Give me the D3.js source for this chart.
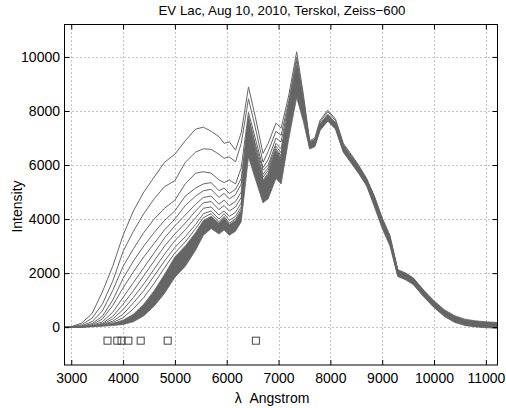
<!DOCTYPE html>
<html><head><meta charset="utf-8">
<script src="https://cdn.jsdelivr.net/npm/d3@7"></script>
<style>
body{margin:0;background:#fff;}
svg text{font-family:"Liberation Sans", Arial, Helvetica, sans-serif;fill:#000;white-space:pre;}
</style></head><body>
<svg id="chart" width="506" height="408"></svg>
<script>
// ---- data ----
const wavelength = [2870,3000,3200,3400,3600,3800,4000,4200,4400,4600,4800,5000,5200,5400,5550,5700,5850,5950,6050,6170,6280,6420,6550,6700,6800,6950,7050,7200,7350,7480,7600,7700,7800,7950,8100,8250,8400,8550,8700,8850,9000,9150,9300,9450,9600,9800,10000,10200,10400,10600,10800,11000,11225];
// envelope of the dense bundle of quiescent / late spectra
const bandLow  = [0,0,5,15,35,60,100,200,420,780,1250,1850,2250,2850,3400,3650,3450,3600,3400,3550,3900,6300,5500,4600,4750,5500,5300,7000,8500,7600,6595,6675,7275,7625,7325,6475,6075,5675,5225,4450,3650,3000,1875,1755,1575,1125,725,395,175,60,10,-20,-40];
const bandHigh = [0,3,12,35,75,140,260,480,850,1350,1950,2600,3000,3500,3950,4100,3850,4050,3800,3950,4300,7400,6400,5400,5600,6500,6200,8000,9600,8250,6845,6925,7525,7875,7575,6725,6325,5925,5475,4850,4050,3400,2125,2005,1825,1375,975,645,425,295,235,200,175];
// individual flare spectra
const spec1 = [0,20,150,500,1300,2250,3400,4300,5000,5550,6100,6400,6900,7330,7400,7250,7050,6800,6860,6550,7200,8890,7800,6430,6800,7550,7360,8600,10190,8600,6900,7000,7650,8030,7700,6800,6400,5980,5500,4820,4000,3330,2120,1990,1800,1340,930,590,360,220,150,110,90];
const spec2 = [0,10,90,330,850,1700,2800,3550,4200,4750,5200,5420,6100,6480,6600,6580,6400,6250,6300,6120,6800,8450,7400,6100,6500,7250,7100,8400,9980,8450,6860,6950,7590,7970,7640,6760,6360,5950,5470,4790,3980,3310,2100,1970,1790,1330,920,580,350,210,140,100,80];
const spec3 = [0,5,50,200,600,1350,2250,2900,3500,4000,4400,4700,5300,5700,5750,5700,5450,5350,5450,5300,5900,7950,7000,5900,6200,7000,6850,8300,9850,8400,6800,6890,7500,7840,7540,6690,6290,5890,5440,4740,3940,3280,2080,1950,1770,1310,900,560,340,200,130,95,70];
const spec4 = [0,3,30,130,400,1000,1800,2450,3000,3500,3950,4300,4850,5150,5300,5350,5050,5150,4950,5100,5500,7800,6800,5800,6000,6800,6600,8200,9700,8300,6760,6840,7440,7790,7490,6640,6240,5840,5390,4690,3890,3240,2040,1920,1740,1290,890,560,340,210,150,115,90];
const spec5 = [0,2,20,90,300,800,1450,2050,2600,3100,3600,4000,4500,4850,5050,5100,4800,4950,4750,4900,5300,7700,6700,5650,5900,6700,6450,8100,9600,8200,6720,6800,7400,7750,7450,6600,6200,5800,5350,4650,3850,3200,2000,1880,1700,1250,850,520,300,170,110,75,50];
const spec6 = [0,1,12,60,200,550,1100,1650,2200,2750,3300,3750,4150,4550,4800,4850,4550,4700,4500,4650,5000,7600,6600,5550,5800,6600,6350,8000,9500,8100,6680,6760,7360,7710,7410,6560,6160,5760,5310,4610,3810,3160,1960,1840,1660,1210,810,480,260,130,70,35,10];
const spec7 = [0,1,8,45,140,400,850,1350,1900,2450,3000,3450,3850,4300,4600,4650,4350,4500,4300,4450,4800,7500,6500,5450,5700,6550,6300,7900,9400,8050,6740,6820,7420,7770,7470,6620,6220,5820,5370,4670,3870,3220,2020,1900,1720,1270,870,540,320,190,130,95,70];
const spec8 = [0,1,6,35,110,300,650,1100,1600,2150,2700,3200,3600,4050,4400,4450,4150,4300,4100,4250,4600,7450,6450,5400,5650,6500,6250,7900,9400,8000,6650,6730,7330,7680,7380,6530,6130,5730,5280,4580,3780,3130,1930,1810,1630,1180,780,450,230,100,45,15,5];
const spec9 = [0,1,5,30,90,220,480,900,1350,1900,2450,2950,3350,3800,4200,4300,4000,4200,3950,4100,4450,7300,6300,5250,5500,6350,6100,7800,9300,7950,6790,6870,7470,7820,7520,6670,6270,5870,5420,4720,3920,3270,2070,1950,1770,1320,920,590,370,240,180,145,120];
const spec10 = [0,1,4,25,70,170,350,680,1100,1620,2200,2750,3150,3650,4050,4200,3900,4100,3850,4000,4350,7200,6200,5150,5400,6250,6000,7700,9200,7900,6620,6700,7300,7650,7350,6500,6100,5700,5250,4550,3750,3100,1900,1780,1600,1150,750,420,200,80,30,10,0];
// Balmer line markers
const balmerLines = [3700, 3889, 3970, 4102, 4340, 4861, 6563];
const markerLevel = [-500, -500, -500, -500, -500, -500, -500];
// axes
const xTicks = [3000,4000,5000,6000,7000,8000,9000,10000,11000];
const yTicks = [0,2000,4000,6000,8000,10000];
const xDomain = [2870, 11225];
const yDomain = [-1400, 11200];
const titleText = "EV Lac, Aug 10, 2010, Terskol, Zeiss\u2212600";
const xLabel = "\u03bb  Angstrom";
const yLabel = "Intensity";

// ---- drawing ----
(function draw(){
const L = 64.5, R = 497.5, T = 24.5, B = 365;
const svg = d3.select("#chart");
const x = d3.scaleLinear().domain(xDomain).range([L, R]);
const y = d3.scaleLinear().domain(yDomain).range([B, T]);
const col = "#666666";

svg.append("defs").append("clipPath").attr("id","clip")
  .append("rect").attr("x",L).attr("y",T).attr("width",R-L).attr("height",B-T);

// grid
const grid = svg.append("g").attr("stroke","#8a8a8a").attr("stroke-width",1).attr("stroke-dasharray","1,3");
grid.selectAll("line.gx").data(xTicks).join("line").attr("class","gx")
  .attr("x1",d=>Math.round(x(d))+0.5).attr("x2",d=>Math.round(x(d))+0.5).attr("y1",T).attr("y2",B);
grid.selectAll("line.gy").data(yTicks).join("line").attr("class","gy")
  .attr("y1",d=>Math.round(y(d))+0.5).attr("y2",d=>Math.round(y(d))+0.5).attr("x1",L).attr("x2",R);

const plot = svg.append("g").attr("clip-path","url(#clip)");
const idx = d3.range(wavelength.length);
const area = d3.area().x(i=>x(wavelength[i])).y0(i=>y(bandLow[i])).y1(i=>y(bandHigh[i]));
plot.append("path").attr("d",area(idx)).attr("fill",col).attr("stroke",col).attr("stroke-width",0.8);

const spectra = [spec10, spec9, spec8, spec7, spec6, spec5, spec4, spec3, spec2, spec1];
const line = d3.line().x((d,i)=>x(wavelength[i])).y(d=>y(d));
plot.selectAll("path.spec").data(spectra).join("path").attr("class","spec")
  .attr("d",line).attr("fill","none").attr("stroke",col).attr("stroke-width",1);

// markers
svg.selectAll("rect.mk").data(balmerLines).join("rect").attr("class","mk")
  .attr("x",(d)=>x(d)-3.5).attr("y",(d,i)=>y(markerLevel[i])-3.5)
  .attr("width",7).attr("height",7).attr("fill","none").attr("stroke","#444").attr("stroke-width",1);

// axes
const ax = svg.append("g").attr("font-size",14);
ax.append("g").attr("transform",`translate(0,${B})`)
  .call(d3.axisBottom(x).tickValues(xTicks).tickSizeInner(-5).tickSizeOuter(0).tickPadding(8).tickFormat(d3.format("d")));
ax.append("g").attr("transform",`translate(0,${T})`)
  .call(d3.axisTop(x).tickValues(xTicks).tickSizeInner(-5).tickSizeOuter(0).tickFormat(""));
ax.append("g").attr("transform",`translate(${L},0)`)
  .call(d3.axisLeft(y).tickValues(yTicks).tickSizeInner(-5).tickSizeOuter(0).tickPadding(4.5).tickFormat(d3.format("d")));
ax.append("g").attr("transform",`translate(${R},0)`)
  .call(d3.axisRight(y).tickValues(yTicks).tickSizeInner(-5).tickSizeOuter(0).tickFormat(""));
ax.selectAll(".domain").remove();
ax.selectAll(".tick line").attr("stroke","#000");
ax.selectAll(".tick text").attr("font-family","Liberation Sans, Arial, sans-serif").attr("font-size",14).attr("fill","#000");

svg.append("rect").attr("x",L).attr("y",T).attr("width",R-L).attr("height",B-T)
  .attr("fill","none").attr("stroke","#000").attr("stroke-width",1);

svg.append("text").attr("x",(L+R)/2+1).attr("y",15).attr("text-anchor","middle")
  .attr("font-size",13.3).text(titleText);
svg.append("text").attr("x",272).attr("y",403).attr("text-anchor","middle")
  .attr("font-size",14).attr("xml:space","preserve").text(xLabel);
svg.append("text").attr("transform","translate(21.5,206.5) rotate(-90)").attr("text-anchor","middle")
  .attr("font-size",14).text(yLabel);
})();
</script>
</body></html>
